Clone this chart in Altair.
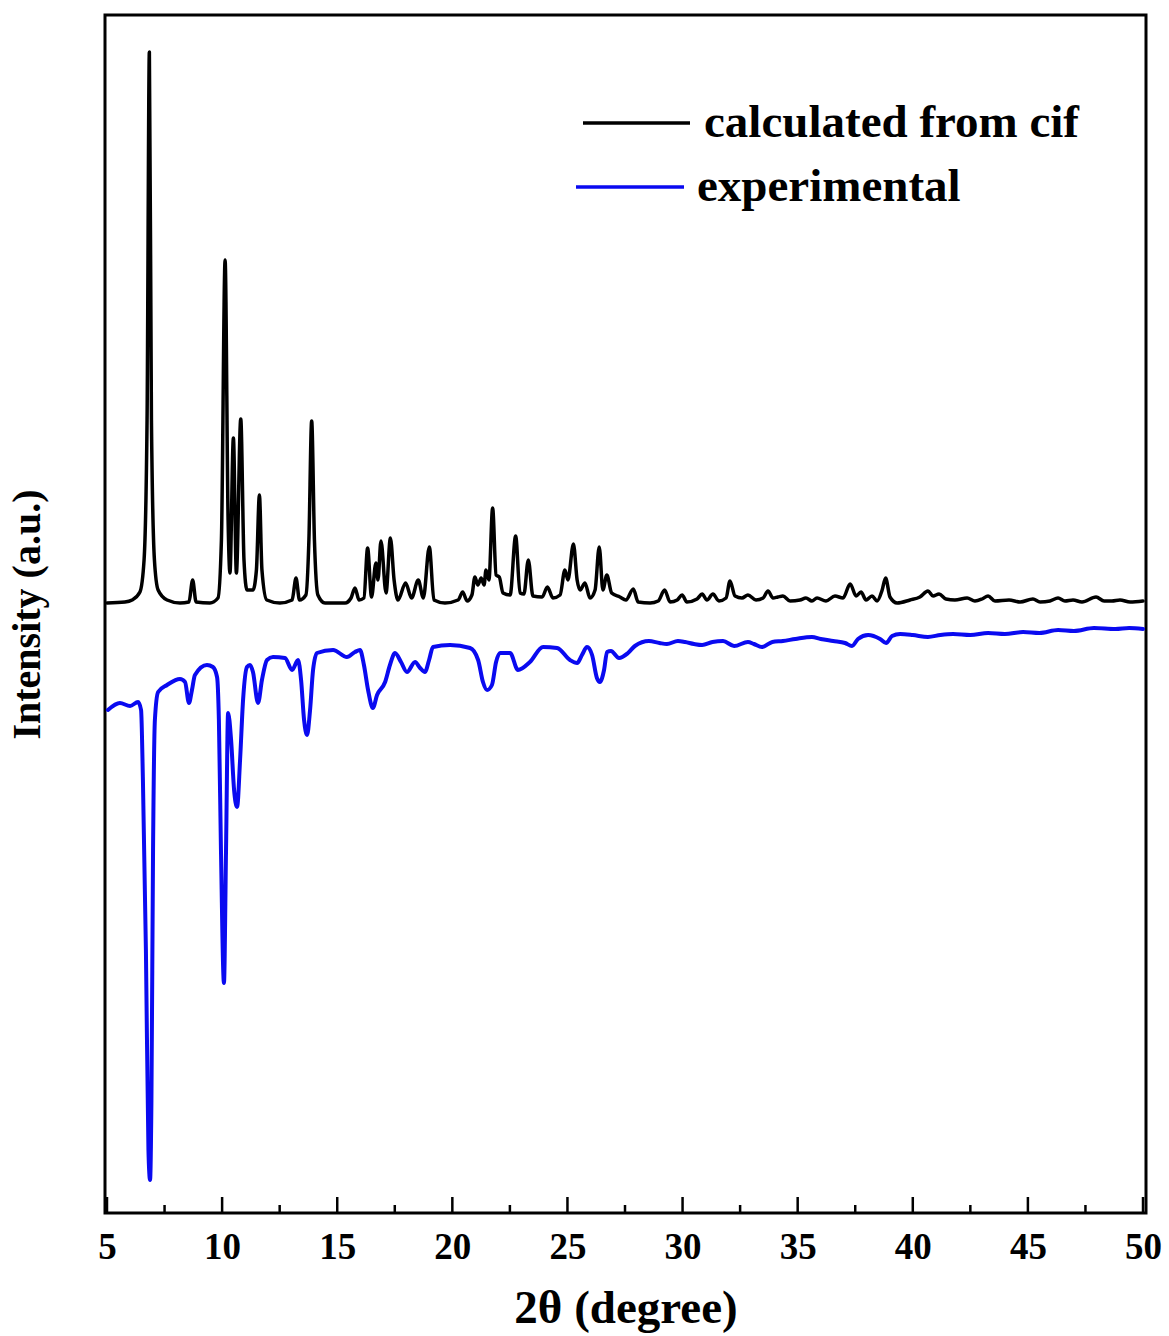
import altair as alt
import pandas as pd

# ---- data ----
calc_x = [5.00, 5.78, 6.09, 6.43, 6.61, 6.74, 6.84, 6.93, 7.06, 7.22,
          7.61, 8.17, 8.56, 8.72, 8.87, 9.47, 9.82, 9.97, 10.13, 10.26,
          10.34, 10.49, 10.62, 10.81, 10.95, 11.08, 11.34, 11.49, 11.62, 11.73,
          11.94, 12.51, 13.04, 13.21, 13.36, 13.64, 13.77, 13.89, 14.01, 14.16,
          14.47, 15.34, 15.60, 15.77, 15.95, 16.16, 16.32, 16.49, 16.68, 16.77,
          16.90, 17.12, 17.31, 17.47, 17.64, 17.97, 18.23, 18.52, 18.74, 19.00,
          19.20, 19.68, 20.25, 20.45, 20.64, 20.85, 20.98, 21.11, 21.25, 21.38,
          21.46, 21.59, 21.75, 21.90, 22.04, 22.20, 22.51, 22.75, 22.94, 23.11,
          23.30, 23.50, 23.90, 24.13, 24.37, 24.68, 24.89, 25.02, 25.26, 25.42,
          25.55, 25.76, 25.98, 26.20, 26.38, 26.54, 26.71, 26.92, 27.28, 27.54,
          27.86, 28.07, 28.59, 28.94, 29.22, 29.46, 29.77, 29.98, 30.19, 30.63,
          30.85, 31.06, 31.32, 31.58, 31.89, 32.06, 32.28, 32.58, 32.84, 33.19,
          33.50, 33.71, 33.93, 34.14, 34.36, 34.67, 35.10, 35.36, 35.62, 35.84,
          36.23, 36.62, 36.97, 37.28, 37.54, 37.75, 37.97, 38.23, 38.45, 38.67,
          38.82, 39.01, 39.32, 39.88, 40.31, 40.66, 40.88, 41.14, 41.44, 41.83,
          42.36, 42.70, 43.01, 43.27, 43.57, 44.18, 44.66, 45.22, 45.53, 45.96,
          46.31, 46.61, 46.96, 47.35, 47.96, 48.31, 48.65, 49.00, 49.44, 50.00]
calc_y = [610, 611, 613, 621, 653, 793, 1161, 793, 653, 623,
          613, 610, 611, 633, 611, 610, 615, 673, 953, 693,
          640, 775, 640, 794, 653, 623, 623, 643, 718, 643,
          613, 610, 613, 635, 613, 618, 673, 792, 673, 618,
          610, 610, 615, 625, 613, 615, 665, 616, 650, 633,
          672, 620, 675, 633, 613, 630, 615, 633, 615, 666,
          613, 610, 613, 621, 612, 618, 636, 628, 635, 628,
          643, 633, 705, 638, 636, 620, 618, 677, 620, 619,
          653, 617, 616, 626, 615, 618, 643, 633, 669, 633,
          623, 630, 615, 623, 666, 623, 638, 620, 616, 613,
          624, 611, 610, 612, 623, 611, 613, 618, 611, 614,
          619, 613, 619, 612, 615, 632, 617, 615, 618, 613,
          615, 622, 615, 616, 617, 612, 613, 615, 612, 615,
          612, 617, 615, 629, 617, 621, 613, 617, 612, 623,
          635, 616, 610, 613, 616, 622, 617, 619, 614, 613,
          615, 612, 614, 617, 612, 613, 611, 614, 611, 612,
          615, 612, 613, 611, 616, 612, 612, 613, 611, 612]

exp_x = [5.04, 5.56, 6.00, 6.35, 6.48, 6.56, 6.69, 6.80, 6.87, 6.93,
         7.00, 7.08, 7.22, 7.61, 8.17, 8.39, 8.56, 8.69, 8.82, 9.34,
         9.60, 9.78, 9.86, 9.95, 10.08, 10.17, 10.26, 10.39, 10.52, 10.65,
         10.78, 10.91, 11.08, 11.21, 11.34, 11.56, 11.73, 11.95, 12.21, 12.73,
         13.04, 13.30, 13.43, 13.56, 13.69, 13.82, 13.95, 14.12, 14.82, 15.42,
         15.77, 15.99, 16.16, 16.34, 16.55, 16.73, 17.08, 17.29, 17.51, 17.77,
         18.03, 18.38, 18.60, 18.81, 18.99, 19.16, 19.90, 20.77, 21.12, 21.33,
         21.51, 21.72, 21.90, 22.07, 22.51, 22.85, 23.37, 23.94, 24.55, 25.11,
         25.42, 25.63, 25.85, 26.07, 26.28, 26.41, 26.59, 26.72, 26.89, 27.24,
         27.63, 27.93, 28.54, 29.00, 29.32, 29.80, 30.11, 30.50, 30.85, 31.30,
         31.76, 32.24, 32.84, 33.10, 33.45, 33.90, 34.36, 34.90, 35.62, 36.00,
         36.54, 37.06, 37.36, 37.62, 38.06, 38.58, 38.84, 39.10, 39.45, 40.00,
         40.66, 41.20, 41.75, 42.50, 43.27, 44.00, 44.79, 45.50, 46.31, 47.00,
         47.87, 48.80, 49.40, 50.00]
exp_y = [503, 510, 507, 511, 503, 433, 263, 63, 33, 113,
         363, 493, 521, 528, 534, 531, 510, 523, 538, 548,
         546, 536, 493, 363, 230, 363, 500, 473, 423, 406,
         453, 513, 546, 548, 541, 510, 533, 553, 556, 555,
         543, 553, 533, 493, 478, 503, 543, 560, 563, 556,
         561, 563, 548, 523, 505, 518, 531, 548, 560, 551,
         541, 551, 545, 541, 553, 566, 568, 565, 553, 531,
         523, 528, 551, 560, 560, 543, 551, 566, 565, 553,
         550, 558, 566, 558, 535, 531, 543, 561, 562, 555,
         560, 567, 572, 570, 569, 572, 571, 569, 568, 571,
         572, 567, 571, 569, 566, 571, 572, 574, 576, 574,
         572, 570, 567, 574, 578, 574, 570, 577, 579, 578,
         576, 578, 579, 578, 580, 579, 581, 580, 583, 582,
         585, 584, 585, 584]

major_ticks = [5, 10, 15, 20, 25, 30, 35, 40, 45, 50]
minor_ticks = [7.5, 12.5, 17.5, 22.5, 27.5, 32.5, 37.5, 42.5, 47.5]
legend_labels = ["calculated from cif", "experimental"]

assert len(calc_x) == len(calc_y)
assert len(exp_x) == len(exp_y)

FONT = "Liberation Serif"
PLOT_W = 1041
PLOT_H = 1198
BLUE = "#0a0af0"

x_scale = alt.Scale(domain=[4.913, 50.13], nice=False, zero=False)
y_scale = alt.Scale(domain=[0, 1198], nice=False, zero=False)

x_axis = alt.Axis(values=major_ticks, format="d", title="2θ (degree)",
                  ticks=False, domain=False, grid=False,
                  labelFont=FONT, labelFontSize=37, labelFontWeight="bold",
                  labelColor="black", labelPadding=16, labelFlush=False,
                  labelOverlap=False,
                  titleFont=FONT, titleFontSize=47, titleFontWeight="bold",
                  titleColor="black", titlePadding=20)
y_axis = alt.Axis(title="Intensity (a.u.)", labels=False, ticks=False,
                  domain=False, grid=False,
                  titleFont=FONT, titleFontSize=40, titleFontWeight="bold",
                  titleColor="black", titlePadding=58)

calc_df = pd.DataFrame({"two_theta": calc_x, "intensity": calc_y})
exp_df = pd.DataFrame({"two_theta": exp_x, "intensity": exp_y})
major_df = pd.DataFrame({"two_theta": major_ticks})
minor_df = pd.DataFrame({"two_theta": minor_ticks})

calc = alt.Chart(calc_df).mark_line(
    color="black", strokeWidth=3.5, interpolate="monotone",
    strokeJoin="round", strokeCap="round").encode(
    x=alt.X("two_theta:Q", scale=x_scale, axis=x_axis),
    y=alt.Y("intensity:Q", scale=y_scale, axis=y_axis),
)
exp = alt.Chart(exp_df).mark_line(
    color=BLUE, strokeWidth=4, interpolate="monotone",
    strokeJoin="round", strokeCap="round").encode(
    x=alt.X("two_theta:Q", scale=x_scale, axis=x_axis),
    y=alt.Y("intensity:Q", scale=y_scale, axis=y_axis),
)

major = alt.Chart(major_df).mark_rule(color="black", strokeWidth=2.5).encode(
    x=alt.X("two_theta:Q", scale=x_scale, axis=x_axis),
    y=alt.value(PLOT_H),
    y2=alt.value(PLOT_H - 16),
)
minor = alt.Chart(minor_df).mark_rule(color="black", strokeWidth=2.5).encode(
    x=alt.X("two_theta:Q", scale=x_scale, axis=x_axis),
    y=alt.value(PLOT_H),
    y2=alt.value(PLOT_H - 8),
)

leg1_df = pd.DataFrame({"label": [legend_labels[0]]})
leg2_df = pd.DataFrame({"label": [legend_labels[1]]})

leg1_line = alt.Chart(leg1_df).mark_rule(color="black", strokeWidth=3.5).encode(
    x=alt.value(478), x2=alt.value(585), y=alt.value(108))
leg1_text = alt.Chart(leg1_df).mark_text(
    align="left", baseline="middle", font=FONT, fontSize=47,
    fontWeight="bold", color="black").encode(
    x=alt.value(599), y=alt.value(108), text="label:N")
leg2_line = alt.Chart(leg2_df).mark_rule(color=BLUE, strokeWidth=3.5).encode(
    x=alt.value(471), x2=alt.value(579), y=alt.value(172))
leg2_text = alt.Chart(leg2_df).mark_text(
    align="left", baseline="middle", font=FONT, fontSize=47,
    fontWeight="bold", color="black").encode(
    x=alt.value(592), y=alt.value(172), text="label:N")

chart = alt.layer(
    calc, exp, major, minor, leg1_line, leg1_text, leg2_line, leg2_text
).properties(
    width=PLOT_W,
    height=PLOT_H,
    autosize=alt.AutoSizeParams(type="none"),
    padding={"left": 105, "top": 15, "right": 23, "bottom": 123},
    background="white",
).configure_view(
    stroke="black", strokeWidth=3
)

chart.save("out.html", embed_options={"renderer": "svg", "actions": False})
